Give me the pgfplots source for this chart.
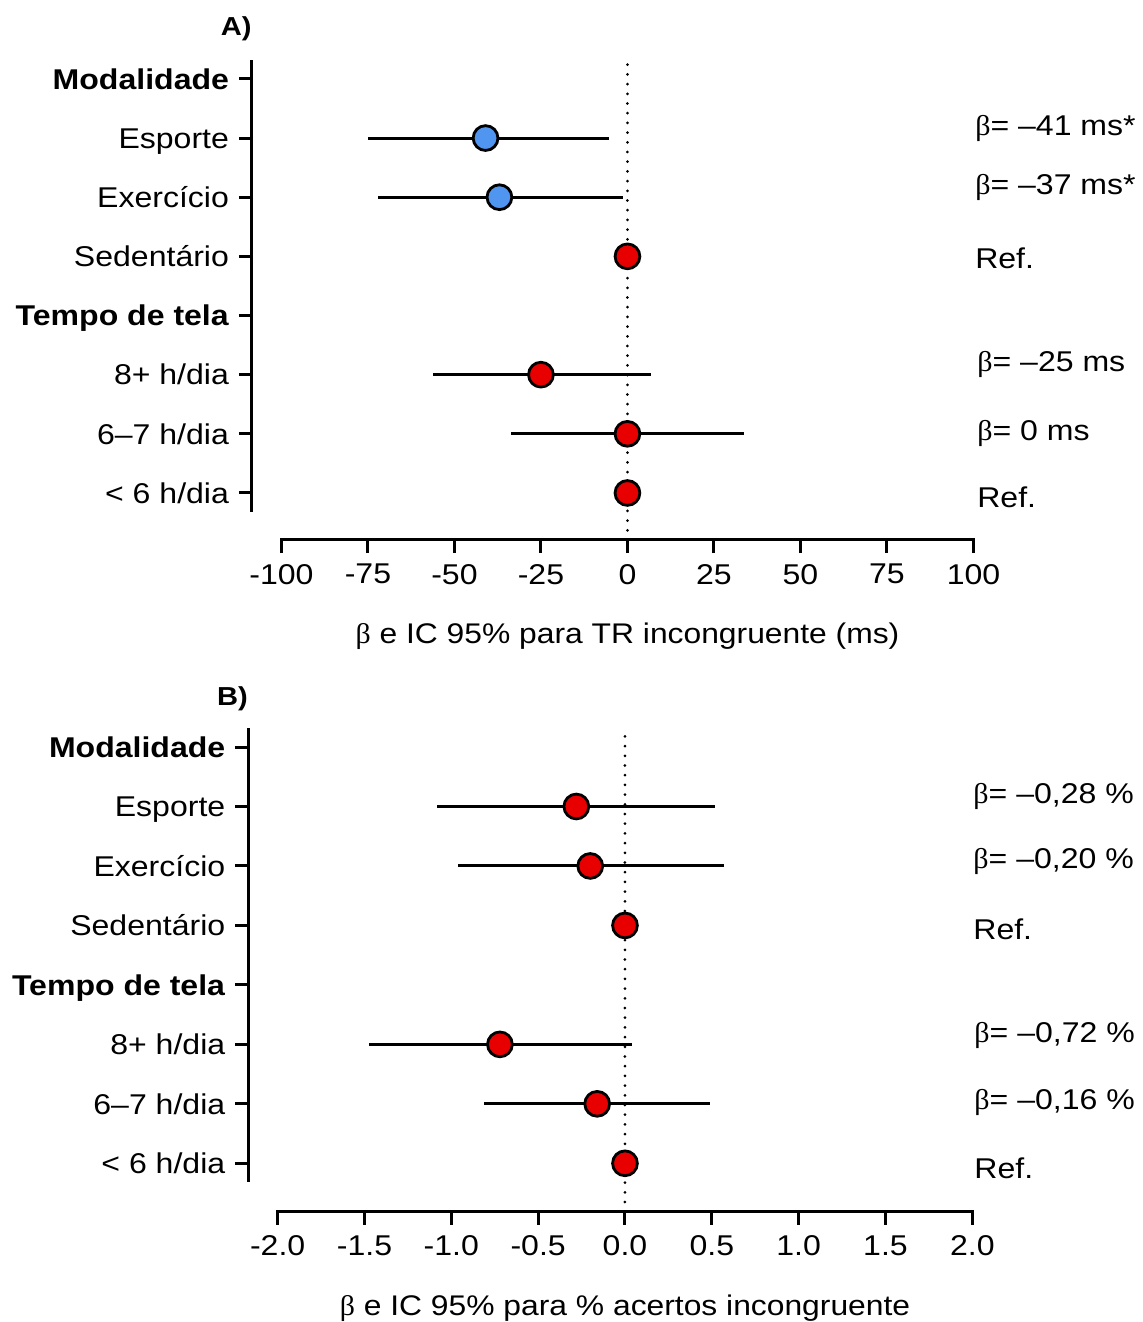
\documentclass[border=0pt]{standalone}
\usepackage{fontspec}
\setmainfont{Liberation Sans}[FakeStretch=1.12]
\newfontfamily\betafont{Liberation Serif}[FakeStretch=1.05]
\usepackage{pgfplots}
\usepackage{pgfplotstable}
\pgfplotsset{compat=1.18}
\definecolor{dotred}{RGB}{232,0,0}
\definecolor{dotblue}{RGB}{80,150,240}
\newcommand{\B}{{\betafont β}}

\pgfplotstableread{
y b lo hi
6 -41 -75 -5.2
5 -37 -72 -1.4
}\Ablue
\pgfplotstableread{
y b lo hi
4 0 0 0
2 -25 -56.3 6.8
1 0 -33.6 33.8
0 0 0 0
}\Ared
\pgfplotstableread{
y b lo hi
6 -0.28 -1.082 0.517
5 -0.20 -0.964 0.569
4 0 0 0
2 -0.72 -1.475 0.038
1 -0.16 -0.814 0.489
0 0 0 0
}\Bred

\pgfplotsset{
  forest/.style={
    scale only axis, clip=false,
    axis line style={draw=none},
    tick align=outside, xtick pos=left, ytick pos=left,
    major tick length=6.5pt,
    every tick/.style={draw=black, line width=1.5pt},
    minor tick num=0,
    ytick={0,...,7},
    yticklabels={< 6 h/dia, 6–7 h/dia, 8+ h/dia, \textbf{Tempo de tela}, Sedentário, Exercício, Esporte, \textbf{Modalidade}},
    tick label style={font=\fontsize{14.3}{17}\selectfont},
    xticklabel style={yshift=-2pt},
    yticklabel style={anchor=base east, xshift=-1.5pt, yshift=-5.1pt},
    xlabel style={font=\fontsize{14.2}{17}\selectfont, anchor=base, inner sep=0pt},
  },
  ci/.style={only marks, mark=*, mark size=6.2pt,
    mark options={draw=black, fill=#1, line width=1.4pt},
    error bars/.cd, x dir=both, x explicit, error mark=none,
    error bar style={black, line width=1.5pt}},
  zeroline/.style={black, line width=1.5pt, dash pattern=on 0pt off 4.85pt, line cap=round, mark=none},
}

\begin{document}
\begin{tikzpicture}[font=\fontsize{14.3}{17}\selectfont]
\path[use as bounding box] (-126pt,-391pt) rectangle (445.5pt,270pt);

% Panel A
\begin{axis}[forest,
  width=360.75pt, height=240pt,
  xmin=-108.5, xmax=100, ymin=-0.795, ymax=7.32,
  xtick={-100,-75,-50,-25,0,25,50,75,100},
  xticklabels={-100,-75,-50,-25,0,25,50,75,100},
  xlabel={\B{} e IC 95\% para TR incongruente (ms)},
  xlabel style={at={(axis description cs:0.5204,0)}, yshift=-51.5pt},
]
\addplot[zeroline] coordinates {(0,-0.795) (0,7.32)};
\draw[line width=1.5pt] (axis cs:-108.5,-0.32) -- (axis cs:-108.5,7.32);
\draw[line width=1.5pt, line cap=rect] (axis cs:-100,-0.795) -- (axis cs:100,-0.795);
\addplot[ci=dotblue] table[x=b, y=y,
  x error plus expr=\thisrow{hi}-\thisrow{b},
  x error minus expr=\thisrow{b}-\thisrow{lo}] {\Ablue};
\addplot[ci=dotred] table[x=b, y=y,
  x error plus expr=\thisrow{hi}-\thisrow{b},
  x error minus expr=\thisrow{b}-\thisrow{lo}] {\Ared};
\node[anchor=base east, inner sep=0pt, font=\fontsize{13}{15}\selectfont\bfseries] at (axis cs:-108.5,7.74) {A)};
\node[anchor=base west, inner sep=0pt] at (axis cs:100.4,6.05) {\B= –41 ms*};
\node[anchor=base west, inner sep=0pt] at (axis cs:100.4,5.04) {\B= –37 ms*};
\node[anchor=base west, inner sep=0pt] at (axis cs:100.4,3.80) {Ref.};
\node[anchor=base west, inner sep=0pt] at (axis cs:101,2.05) {\B= –25 ms};
\node[anchor=base west, inner sep=0pt] at (axis cs:101,0.88) {\B= 0 ms};
\node[anchor=base west, inner sep=0pt] at (axis cs:101,-0.24) {Ref.};
\end{axis}

% Panel B
\begin{axis}[forest, at={(-1.85pt,-335.85pt)},
  width=362pt, height=241.85pt,
  xmin=-2.169, xmax=2, ymin=-0.814, ymax=7.32,
  xtick={-2,-1.5,-1,-0.5,0,0.5,1,1.5,2},
  xticklabels={-2.0,-1.5,-1.0,-0.5,0.0,0.5,1.0,1.5,2.0},
  xlabel={\B{} e IC 95\% para \% acertos incongruente},
  xlabel style={at={(axis description cs:0.5203,0)}, yshift=-51.65pt},
]
\addplot[zeroline] coordinates {(0,-0.814) (0,7.32)};
\draw[line width=1.5pt] (axis cs:-2.169,-0.31) -- (axis cs:-2.169,7.32);
\draw[line width=1.5pt, line cap=rect] (axis cs:-2,-0.814) -- (axis cs:2,-0.814);
\addplot[ci=dotred] table[x=b, y=y,
  x error plus expr=\thisrow{hi}-\thisrow{b},
  x error minus expr=\thisrow{b}-\thisrow{lo}] {\Bred};
\node[anchor=base east, inner sep=0pt, font=\fontsize{13}{15}\selectfont\bfseries] at (axis cs:-2.169,7.70) {B)};
\node[anchor=base west, inner sep=0pt] at (axis cs:2.004,6.05) {\B= –0,28 \%};
\node[anchor=base west, inner sep=0pt] at (axis cs:2.004,4.95) {\B= –0,20 \%};
\node[anchor=base west, inner sep=0pt] at (axis cs:2.004,3.77) {Ref.};
\node[anchor=base west, inner sep=0pt] at (axis cs:2.01,2.03) {\B= –0,72 \%};
\node[anchor=base west, inner sep=0pt] at (axis cs:2.01,0.91) {\B= –0,16 \%};
\node[anchor=base west, inner sep=0pt] at (axis cs:2.01,-0.25) {Ref.};
\end{axis}
\end{tikzpicture}
\end{document}
